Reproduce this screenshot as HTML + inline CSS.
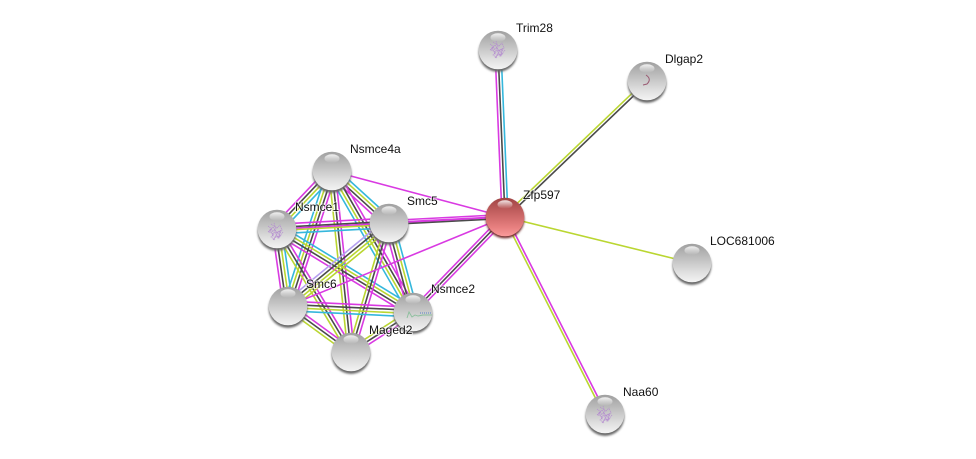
<!DOCTYPE html>
<html><head><meta charset="utf-8"><style>
html,body{margin:0;padding:0;background:#fff;width:976px;height:459px;overflow:hidden}
svg{display:block}
line{vector-effect:non-scaling-stroke;stroke-width:1.6;fill:none}
.m{stroke:#d93ae2}.k{stroke:#4a4a4a}.y{stroke:#bad631}.c{stroke:#35b7dc}.l{stroke:#b5a0f0}
text{font-family:"Liberation Sans",sans-serif;font-size:12px;fill:#111;paint-order:stroke;stroke:rgba(255,255,255,.6);stroke-width:2px}
</style></head><body>
<svg width="976" height="459" viewBox="0 0 976 459" xmlns="http://www.w3.org/2000/svg">
<defs>
<linearGradient id="gb" x1="0" y1="0" x2="0" y2="1"><stop offset="0" stop-color="#a0a0a0"/><stop offset=".35" stop-color="#bdbdbd"/><stop offset=".7" stop-color="#dcdcdc"/><stop offset="1" stop-color="#f4f4f4"/></linearGradient>
<linearGradient id="rb" x1="0" y1="0" x2="0" y2="1"><stop offset="0" stop-color="#a04444"/><stop offset=".4" stop-color="#c66262"/><stop offset=".75" stop-color="#e67e7e"/><stop offset="1" stop-color="#fa9a9a"/></linearGradient>
<linearGradient id="hl" x1="0" y1="0" x2="0" y2="1"><stop offset="0" stop-color="#fff" stop-opacity=".85"/><stop offset="1" stop-color="#fff" stop-opacity="0"/></linearGradient>
<filter id="bl" x="-20%" y="-20%" width="140%" height="140%"><feGaussianBlur stdDeviation="1.1"/></filter>
<g id="A"><line class="m" x1="0" y1="4.8" x2="1" y2="4.8"/><line class="k" x1="0" y1="1.6" x2="1" y2="1.6"/><line class="y" x1="0" y1="-1.6" x2="1" y2="-1.6"/><line class="c" x1="0" y1="-4.8" x2="1" y2="-4.8"/></g>
<g id="B"><line class="m" x1="0" y1="-4.8" x2="1" y2="-4.8"/><line class="k" x1="0" y1="-1.6" x2="1" y2="-1.6"/><line class="y" x1="0" y1="1.6" x2="1" y2="1.6"/><line class="c" x1="0" y1="4.8" x2="1" y2="4.8"/></g>
<g id="C"><line class="m" x1="0" y1="-3.2" x2="1" y2="-3.2"/><line class="k" x1="0" y1="0" x2="1" y2="0"/><line class="y" x1="0" y1="3.2" x2="1" y2="3.2"/></g>
<g id="D"><line class="l" x1="0" y1="4.8" x2="1" y2="4.8"/><line class="k" x1="0" y1="1.6" x2="1" y2="1.6"/><line class="y" x1="0" y1="-1.6" x2="1" y2="-1.6"/><line class="y" x1="0" y1="-4.8" x2="1" y2="-4.8"/></g>
<g id="n"><circle cy="2.6" r="19.3" fill="#666" filter="url(#bl)"/><circle cy="0" r="19.3" fill="url(#gb)"/><ellipse cy="-12.5" rx="7.5" ry="4.2" fill="url(#hl)"/></g>
<g id="r"><circle cy="2" r="19.3" fill="#6f2a2a" filter="url(#bl)"/><circle cy="0" r="19.3" fill="url(#rb)"/><ellipse cy="-12.5" rx="7.5" ry="4.2" fill="url(#hl)"/></g>
<g id="p" fill="none" stroke="#b48ad0" stroke-width=".7" stroke-dasharray="1.2 .6"><path d="M-8-6l4 3-3 3 5 2-3 3 4 3M-5-8l6 4 3-3 2 5-5 2 3 4-4 1M-8 0l5-5 4 6 4-2-2 6M-3 8l3-5 3 3 4-6M-6-3l3 7 2-6 3 8 2-7M-2-9l2 6-4 2 5 3-3 6"/></g>
</defs>

<!-- clique edges -->
<use href="#A" transform="matrix(-55 58 -.726 -.688 332 171)"/>
<use href="#A" transform="matrix(57 52 -.674 .739 332 171)"/>
<use href="#B" transform="matrix(-44 135 -.951 -.31 332 171)"/>
<use href="#B" transform="matrix(81 141 -.867 .498 332 171)"/>
<use href="#C" transform="matrix(19 181 -.994 .104 332 171)"/>
<use href="#B" transform="matrix(112 -6 .053 .999 277 229)"/>
<use href="#A" transform="matrix(11 77 -.99 .141 277 229)"/>
<use href="#A" transform="matrix(136 83 -.521 .854 277 229)"/>
<use href="#C" transform="matrix(74 123 -.857 .516 277 229)"/>
<use href="#D" transform="matrix(-101 83 -.635 -.773 389 223)"/>
<use href="#A" transform="matrix(24 89 -.965 .26 389 223)"/>
<use href="#C" transform="matrix(-38 129 -.959 -.283 389 223)"/>
<use href="#B" transform="matrix(125 6 -.048 .999 288 306)"/>
<use href="#C" transform="matrix(63 46 -.59 .808 288 306)"/>
<use href="#C" transform="matrix(-62 40 -.542 -.84 413 312)"/>

<!-- Zfp597 edges -->
<line class="m" x1="332" y1="171" x2="505" y2="217"/>
<line class="m" x1="277" y1="229" x2="505" y2="217"/>
<line class="m" x1="389" y1="220.5" x2="505" y2="214.5"/>
<line class="m" x1="389" y1="222.5" x2="505" y2="216.5"/>
<line class="k" x1="389" y1="224.5" x2="505" y2="218.5"/>
<line class="m" x1="288" y1="306" x2="505" y2="217"/>
<line class="m" x1="411" y1="310" x2="503" y2="215"/>
<line class="k" x1="413" y1="312" x2="505" y2="217"/>
<line class="m" x1="415" y1="314" x2="507" y2="219"/>
<line class="m" x1="502" y1="217" x2="495" y2="50"/>
<line class="k" x1="505" y1="217" x2="498" y2="50"/>
<line class="c" x1="508" y1="217" x2="501" y2="50"/>
<line class="y" x1="504" y1="216" x2="646" y2="80"/>
<line class="k" x1="506" y1="218" x2="648" y2="82"/>
<line class="y" x1="505" y1="217" x2="692" y2="263"/>
<line class="m" x1="506.2" y1="216.5" x2="606.2" y2="413.5"/>
<line class="y" x1="503.8" y1="217.5" x2="603.8" y2="414.5"/>

<!-- nodes -->
<use href="#n" x="498" y="50"/>
<use href="#p" x="498" y="50"/>
<use href="#n" x="647" y="81"/>
<path d="M646 75q6 4 1 9l-4 1" fill="none" stroke="#9a5a72" stroke-width="1"/>
<use href="#n" x="332" y="171"/>
<use href="#n" x="277" y="229"/>
<use href="#p" x="276" y="232"/>
<use href="#n" x="389" y="223"/>
<use href="#n" x="692" y="263"/>
<use href="#n" x="288" y="306"/>
<use href="#n" x="413" y="312"/>
<path d="M407 318l2-6 3 5 3-2 3 1 5-1h9" fill="none" stroke="#8bbf9c" stroke-width=".9"/>
<path d="M420 313h12" stroke="#5b82c8" stroke-width="1" stroke-dasharray="1 1" fill="none"/>
<use href="#n" x="351" y="352"/>
<use href="#n" x="605" y="414"/>
<use href="#p" x="605" y="415"/>
<use href="#r" x="505" y="217"/>

<!-- labels -->
<text x="516" y="32">Trim28</text>
<text x="665" y="63">Dlgap2</text>
<text x="350" y="153">Nsmce4a</text>
<text x="523" y="199">Zfp597</text>
<text x="407" y="205">Smc5</text>
<text x="295" y="211">Nsmce1</text>
<text x="710" y="245">LOC681006</text>
<text x="306" y="288">Smc6</text>
<text x="431" y="293">Nsmce2</text>
<text x="369" y="334">Maged2</text>
<text x="623" y="396">Naa60</text>
</svg>
</body></html>
